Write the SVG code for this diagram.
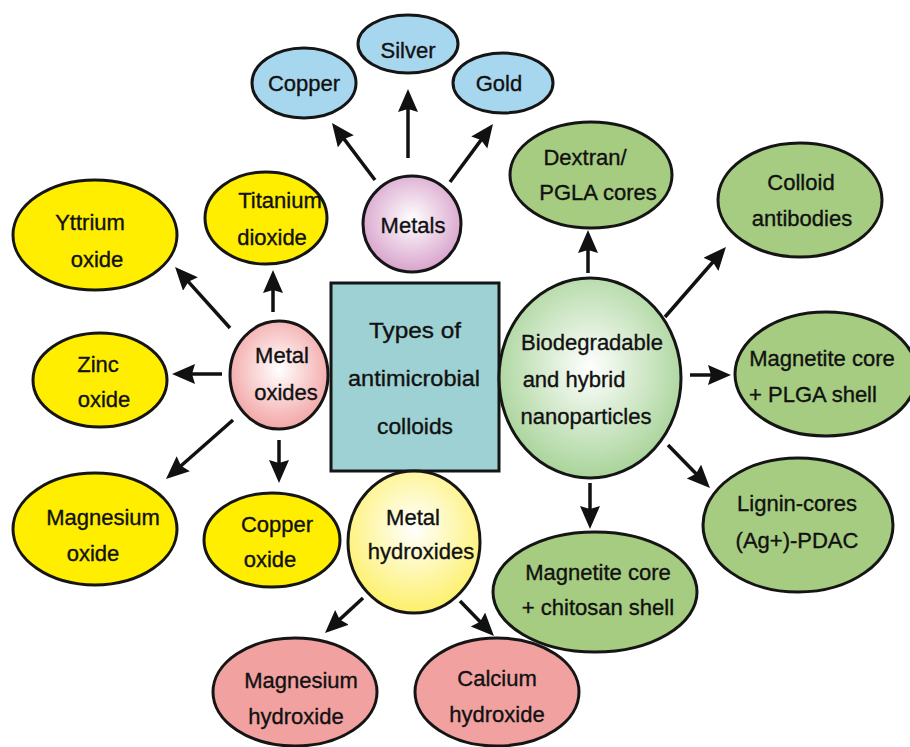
<svg xmlns="http://www.w3.org/2000/svg" width="910" height="747" viewBox="0 0 910 747">
<defs>
<style>
.n{stroke:#151515;stroke-width:3}
.blue{fill:#a7d7ef}
.yel{fill:#ffee00}
.grn{fill:#a5cc80}
.red{fill:#f2a1a1}
.box{fill:#9ed1d3}
text{font-family:"Liberation Sans",Arial,sans-serif;font-size:22px;fill:#111;stroke:#111;stroke-width:0.35;text-anchor:middle}
.c{stroke:#111;stroke-width:3.5;fill:none;marker-end:url(#ah)}
</style>
<radialGradient id="gMetals" cx="0.5" cy="0.45" r="0.55"><stop offset="0" stop-color="#ffffff"/><stop offset="1" stop-color="#d8a3cc"/></radialGradient>
<radialGradient id="gOx" cx="0.5" cy="0.45" r="0.55"><stop offset="0" stop-color="#ffffff"/><stop offset="1" stop-color="#f3a6a6"/></radialGradient>
<radialGradient id="gHyd" cx="0.5" cy="0.4" r="0.6"><stop offset="0" stop-color="#ffffff"/><stop offset="1" stop-color="#fdf06a"/></radialGradient>
<radialGradient id="gBio" cx="0.5" cy="0.45" r="0.55"><stop offset="0" stop-color="#ffffff"/><stop offset="1" stop-color="#a9d49a"/></radialGradient>
<marker id="ah" markerUnits="userSpaceOnUse" markerWidth="26" markerHeight="22" viewBox="0 0 26 22" refX="15" refY="10" orient="auto">
<path d="M0,0 L23,10 L0,20 L3,10 z" fill="#111"/>
</marker>
</defs>
<rect width="910" height="747" fill="#fff"/>

<g id="connectors">
<line class="c" x1="375" y1="180" x2="336.8" y2="129.4"/>
<line class="c" x1="408" y1="158" x2="408" y2="97"/>
<line class="c" x1="450" y1="182" x2="488.2" y2="130.4"/>
<line class="c" x1="273" y1="312" x2="273" y2="278"/>
<line class="c" x1="230" y1="328" x2="180.4" y2="272.9"/>
<line class="c" x1="222" y1="374" x2="180" y2="374"/>
<line class="c" x1="233" y1="420" x2="172" y2="473.7"/>
<line class="c" x1="279" y1="440" x2="279" y2="475"/>
<line class="c" x1="363" y1="598" x2="330.9" y2="627.6"/>
<line class="c" x1="460" y1="601" x2="488.4" y2="630.3"/>
<line class="c" x1="588" y1="273" x2="588" y2="238"/>
<line class="c" x1="665" y1="317" x2="720.7" y2="253"/>
<line class="c" x1="690" y1="375" x2="723" y2="375"/>
<line class="c" x1="590" y1="483" x2="590" y2="521"/>
<line class="c" x1="668" y1="445" x2="704.4" y2="482.3"/>
</g>

<g id="center">
<rect class="n box" x="331" y="283" width="168" height="188"/>
<text x="415" y="338" font-size="34" textLength="92" lengthAdjust="spacingAndGlyphs">Types of</text>
<text x="414" y="386" font-size="34" textLength="132" lengthAdjust="spacingAndGlyphs">antimicrobial</text>
<text x="415" y="434" font-size="34" textLength="76" lengthAdjust="spacingAndGlyphs">colloids</text>
</g>

<g id="metals">
<ellipse class="n" cx="412" cy="224" rx="49" ry="48" fill="url(#gMetals)"/>
<text x="413" y="233">Metals</text>
</g>
<g id="copper">
<ellipse class="n blue" cx="304" cy="83" rx="52" ry="35"/>
<text x="304" y="91">Copper</text>
</g>
<g id="silver">
<ellipse class="n blue" cx="408" cy="44" rx="50" ry="29"/>
<text x="408" y="58">Silver</text>
</g>
<g id="gold">
<ellipse class="n blue" cx="503" cy="83" rx="50" ry="30"/>
<text x="499" y="91">Gold</text>
</g>

<g id="metal-oxides">
<ellipse class="n" cx="279" cy="375" rx="49" ry="54" fill="url(#gOx)"/>
<text x="282" y="363">Metal</text>
<text x="286" y="400">oxides</text>
</g>
<g id="titanium-dioxide">
<ellipse class="n yel" cx="266" cy="218" rx="61" ry="46"/>
<text x="280" y="208">Titanium</text>
<text x="272" y="245">dioxide</text>
</g>
<g id="yttrium-oxide">
<ellipse class="n yel" cx="95" cy="235" rx="82" ry="55"/>
<text x="90" y="230">Yttrium</text>
<text x="97" y="267">oxide</text>
</g>
<g id="zinc-oxide">
<ellipse class="n yel" cx="100" cy="380" rx="67" ry="47"/>
<text x="98" y="372">Zinc</text>
<text x="104" y="407">oxide</text>
</g>
<g id="magnesium-oxide">
<ellipse class="n yel" cx="95" cy="529" rx="82" ry="56"/>
<text x="103" y="525">Magnesium</text>
<text x="93" y="561">oxide</text>
</g>
<g id="copper-oxide">
<ellipse class="n yel" cx="272" cy="540" rx="68" ry="47"/>
<text x="277" y="532">Copper</text>
<text x="270" y="567">oxide</text>
</g>

<g id="metal-hydroxides">
<ellipse class="n" cx="414" cy="542" rx="66" ry="71" fill="url(#gHyd)"/>
<text x="413" y="525" font-size="20">Metal</text>
<text x="421" y="559" font-size="20">hydroxides</text>
</g>
<g id="magnesium-hydroxide">
<ellipse class="n red" cx="295" cy="692" rx="82" ry="54"/>
<text x="301" y="688">Magnesium</text>
<text x="296" y="724">hydroxide</text>
</g>
<g id="calcium-hydroxide">
<ellipse class="n red" cx="497" cy="692" rx="82" ry="54"/>
<text x="497" y="686">Calcium</text>
<text x="497" y="722">hydroxide</text>
</g>

<g id="biodegradable">
<ellipse class="n" cx="590" cy="378" rx="91" ry="100" fill="url(#gBio)"/>
<text x="592" y="350" font-size="21">Biodegradable</text>
<text x="574" y="387" font-size="21">and hybrid</text>
<text x="586" y="424" font-size="21">nanoparticles</text>
</g>
<g id="dextran">
<ellipse class="n grn" cx="591" cy="175" rx="81" ry="53"/>
<text x="585" y="165">Dextran/</text>
<text x="598" y="200">PGLA cores</text>
</g>
<g id="colloid-antibodies">
<ellipse class="n grn" cx="800" cy="200" rx="82" ry="57"/>
<text x="801" y="190">Colloid</text>
<text x="802" y="226">antibodies</text>
</g>
<g id="magnetite-plga">
<ellipse class="n grn" cx="826" cy="374" rx="91" ry="62"/>
<text x="822" y="366">Magnetite core</text>
<text x="813" y="402">+ PLGA shell</text>
</g>
<g id="lignin">
<ellipse class="n grn" cx="798" cy="525" rx="95" ry="67"/>
<text x="797" y="511">Lignin-cores</text>
<text x="797" y="548">(Ag+)-PDAC</text>
</g>
<g id="magnetite-chitosan">
<ellipse class="n grn" cx="595" cy="592" rx="102" ry="60"/>
<text x="598" y="580">Magnetite core</text>
<text x="598" y="615">+ chitosan shell</text>
</g>
</svg>
